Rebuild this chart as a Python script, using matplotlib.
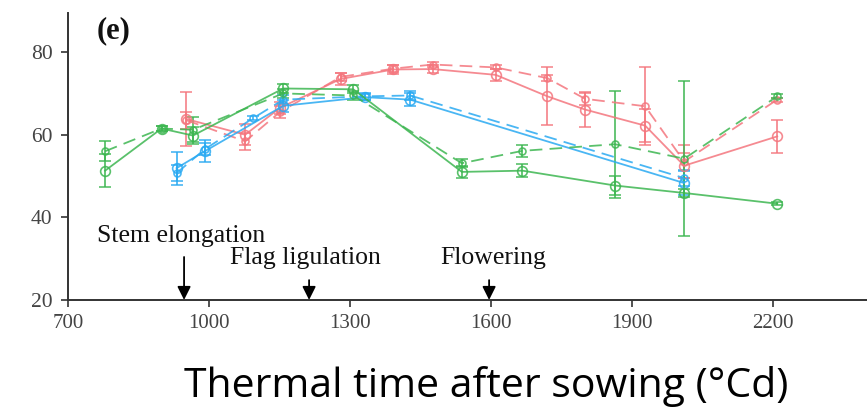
import matplotlib
matplotlib.use("Agg")
import matplotlib.pyplot as plt

# ---- data ----
red_x = [952, 1077, 1151, 1280, 1392, 1476, 1610, 1720, 1800, 1928, 2011, 2209]
red_solid = [63.8, 60.0, 66.5, 73.5, 75.8, 75.9, 74.5, 69.3, 66.1, 62.2, 52.5, 59.6]
red_solid_err = [6.5, 2.5, 1.5, 1.5, 1.0, 1.0, 1.5, 7.0, 4.2, 4.0, 3.0, 4.0]
red_dash = [63.5, 58.4, 65.5, 74.0, 76.0, 77.0, 76.3, 73.7, 68.7, 66.9, 53.5, 68.5]
red_dash_err = [2.0, 2.0, 1.5, 1.0, 0.8, 0.5, 0.5, 0.8, 1.5, 9.5, 4.0, 0.5]

blue_x_solid = [931, 991, 1158, 1332, 1428, 2011]
blue_solid = [51.9, 56.0, 67.0, 69.1, 68.5, 48.3]
blue_solid_err = [4.0, 2.7, 1.5, 0.8, 1.5, 3.0]
blue_x_dash = [931, 991, 1094, 1158, 1332, 1428, 2011]
blue_dash = [50.7, 56.5, 64.0, 68.5, 69.3, 69.5, 49.5]
blue_dash_err = [2.0, 1.5, 0.5, 1.0, 0.8, 1.0, 2.0]

green_x = [779, 899, 966, 1158, 1307, 1538, 1667, 1864, 2011, 2209]
green_solid = [51.3, 61.5, 59.8, 71.2, 71.0, 51.0, 51.3, 47.7, 45.9, 43.3]
green_solid_err = [4.0, 0.5, 2.0, 1.0, 1.0, 1.5, 1.5, 2.2, 1.0, 0.3]
green_dash = [56.0, 61.5, 61.2, 70.0, 69.5, 53.1, 56.1, 57.7, 54.2, 69.3]
green_dash_err = [2.4, 0.5, 3.0, 1.0, 1.0, 1.0, 1.5, 13.0, 18.7, 0.5]

stages = ["Stem elongation", "Flag ligulation", "Flowering"]
stage_x = [947, 1213, 1596]
stage_text_x = [762, 1045, 1492]
stage_text_y = [34.0, 28.7, 28.7]
stage_arrow_top = [30.4, 24.8, 24.8]

x_ticks = [700, 1000, 1300, 1600, 1900, 2200]
y_ticks = [20, 40, 60, 80]

RED = "#F4767E"
BLUE = "#2AAAF2"
GREEN = "#3DB651"

fig = plt.figure(figsize=(8.67, 4.16), dpi=100)
ax = fig.add_axes([0.0784, 0.279, 0.9216, 0.69])

def series(x, y, e, color, ls, ms):
    ax.errorbar(x, y, yerr=e, color=color, linestyle=ls, linewidth=1.3,
                marker="o", markersize=ms, markerfacecolor="none",
                markeredgecolor=color, markeredgewidth=1.2,
                capsize=4.5, capthick=1.3, elinewidth=1.3, alpha=0.85,
                dashes=(7, 4) if ls == "--" else (None, None))

series(red_x, red_solid, red_solid_err, RED, "-", 7)
series(red_x, red_dash, red_dash_err, RED, "--", 5)
series(blue_x_solid, blue_solid, blue_solid_err, BLUE, "-", 7)
series(blue_x_dash, blue_dash, blue_dash_err, BLUE, "--", 5)
series(green_x, green_solid, green_solid_err, GREEN, "-", 7)
series(green_x, green_dash, green_dash_err, GREEN, "--", 5)

serif = ["Liberation Serif", "DejaVu Serif"]
for name, sx, tx, ty, top in zip(stages, stage_x, stage_text_x, stage_text_y, stage_arrow_top):
    ax.text(tx, ty, name, fontsize=18.5, family=serif, color="#111111", ha="left", va="baseline")
    ax.annotate("", xy=(sx, 20), xytext=(sx, top),
                arrowprops=dict(arrowstyle="-|>,head_length=0.8,head_width=0.4",
                                color="black", lw=1.3, shrinkA=0, shrinkB=0))

ax.text(762, 85.2, "(e)", fontsize=22, family=serif, fontweight="bold",
        ha="left", va="center", color="#111111")

ax.set_xlim(700, 2400)
ax.set_ylim(20, 89.5)
ax.set_xticks(x_ticks)
ax.set_yticks(y_ticks)
ax.set_xticklabels([str(t) for t in x_ticks], family=serif, fontsize=15, color="#444444")
ax.set_yticklabels([str(t) for t in y_ticks], family=serif, fontsize=15.5, color="#444444")
for s in ["top", "right"]:
    ax.spines[s].set_visible(False)
for s in ["left", "bottom"]:
    ax.spines[s].set_color("#333333")
    ax.spines[s].set_linewidth(1.4)
ax.tick_params(axis="both", direction="out", length=5, width=1.2, color="#333333")
ax.tick_params(axis="x", pad=5)
ax.tick_params(axis="y", pad=6)

fig.text(0.561, 0.07, "Thermal time after sowing (°Cd)", fontsize=29.5,
         family=["Open Sans", "DejaVu Sans"], ha="center", va="center", color="black")

fig.savefig("out.png", dpi=100)
